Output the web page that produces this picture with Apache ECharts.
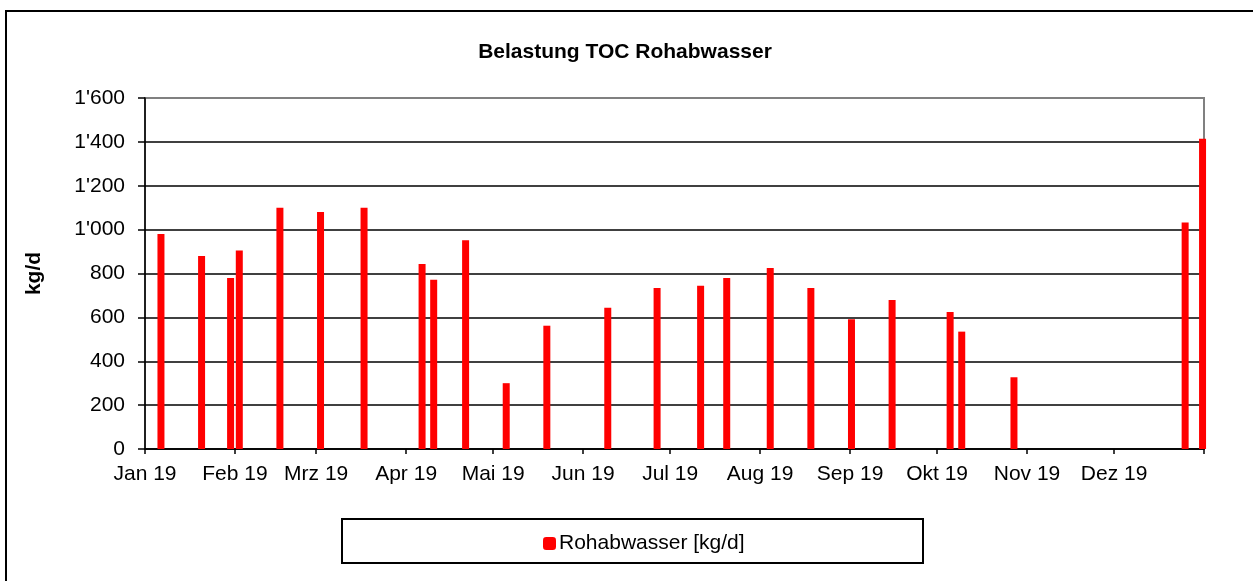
<!DOCTYPE html>
<html>
<head>
<meta charset="utf-8">
<script src="https://cdn.jsdelivr.net/npm/echarts@6/dist/echarts.min.js"></script>
<style>
html,body{margin:0;padding:0;background:#fff;}
#chart{width:1253px;height:581px;}
</style>
</head>
<body>
<div id="chart"></div>
<script>
// ---- data ----
const sampleDates = ['2019-01-06','2019-01-20','2019-01-30','2019-02-02','2019-02-16','2019-03-02','2019-03-17','2019-04-06','2019-04-10','2019-04-21','2019-05-05','2019-05-19','2019-06-09','2019-06-26','2019-07-11','2019-07-20','2019-08-04','2019-08-18','2019-09-01','2019-09-15','2019-10-05','2019-10-09','2019-10-27','2019-12-25','2019-12-31'];
const loadValues = [980, 880, 780, 905, 1100, 1080, 1100, 843, 771, 951, 300, 562, 644, 734, 744, 780, 825, 734, 591, 679, 625, 535, 327, 1032, 1414];
const monthLabels = ['Jan 19','Feb 19','Mrz 19','Apr 19','Mai 19','Jun 19','Jul 19','Aug 19','Sep 19','Okt 19','Nov 19','Dez 19'];
const yTicks = [0, 200, 400, 600, 800, 1000, 1200, 1400, 1600];
const seriesName = 'Rohabwasser [kg/d]';
const chartTitle = 'Belastung TOC Rohabwasser';
const yAxisName = 'kg/d';

// ---- helpers ----
const DAY = 86400000;
const start = Date.UTC(2019, 0, 1);
function dayOf(s) {
  const p = s.split('-').map(Number);
  return (Date.UTC(p[0], p[1] - 1, p[2]) - start) / DAY;
}
const monthStarts = [];
for (let m = 0; m <= 12; m++) monthStarts.push((Date.UTC(2019, m, 1) - start) / DAY);
const barData = sampleDates.map((d, i) => [dayOf(d) + 0.5, loadValues[i]]);
function fmtThousands(v) {
  return String(v).replace(/\B(?=(\d{3})+(?!\d))/g, "'");
}

const FONT = "'Liberation Sans', Arial, sans-serif";
const FS = 21;
const chart = echarts.init(document.getElementById('chart'), null, {renderer: 'canvas'});
chart.setOption({
  animation: false,
  backgroundColor: '#fff',
  title: {
    text: chartTitle,
    left: 620,
    top: 37,
    textAlign: 'center',
    textStyle: {fontFamily: FONT, fontSize: FS, fontWeight: 'bold', color: '#000'}
  },
  legend: {
    data: [seriesName],
    left: 538,
    top: 528,
    itemWidth: 13,
    itemHeight: 13,
    itemGap: 4,
    icon: 'roundRect',
    textStyle: {fontFamily: FONT, fontSize: FS, color: '#000', padding: [0, 0, 0, -2]}
  },
  grid: {
    left: 145, right: 49, top: 98, bottom: 132,
    show: true, borderColor: '#808080', borderWidth: 2, backgroundColor: 'transparent'
  },
  xAxis: {
    type: 'value',
    min: 0, max: 365,
    axisLine: {show: true, onZero: false, lineStyle: {color: '#000', width: 1.5}},
    axisTick: {show: true, length: 5, customValues: monthStarts, lineStyle: {color: '#000', width: 1.5}},
    axisLabel: {
      customValues: monthStarts.slice(0, 12),
      formatter: function (v) {
        const i = monthStarts.indexOf(v);
        return i >= 0 && i < 12 ? monthLabels[i] : '';
      },
      margin: 15,
      fontFamily: FONT, fontSize: FS, color: '#000'
    },
    splitLine: {show: false}
  },
  yAxis: {
    type: 'value',
    min: yTicks[0], max: yTicks[yTicks.length - 1], interval: 200,
    name: yAxisName,
    nameLocation: 'middle',
    nameRotate: 90,
    nameGap: 100,
    nameTextStyle: {fontFamily: FONT, fontSize: FS, fontWeight: 'bold', color: '#000'},
    axisLine: {show: true, lineStyle: {color: '#000', width: 1.5}},
    axisTick: {show: true, length: 7, lineStyle: {color: '#000', width: 1.5}},
    axisLabel: {
      formatter: fmtThousands,
      margin: 20,
      fontFamily: FONT, fontSize: FS, color: '#000'
    },
    splitLine: {show: true, showMaxLine: false, lineStyle: {color: '#000', width: 1.5}}
  },
  series: [{
    name: seriesName,
    type: 'bar',
    data: barData,
    barWidth: 7,
    itemStyle: {color: '#ff0000'}
  }],
  graphic: [
    {type: 'rect', silent: true, z: -1,
     shape: {x: 6, y: 11, width: 1300, height: 700},
     style: {fill: 'none', stroke: '#000', lineWidth: 2}},
    {type: 'rect', silent: true, z: -1,
     shape: {x: 342, y: 519, width: 581, height: 44},
     style: {fill: 'none', stroke: '#000', lineWidth: 2}}
  ]
});
</script>
</body>
</html>
